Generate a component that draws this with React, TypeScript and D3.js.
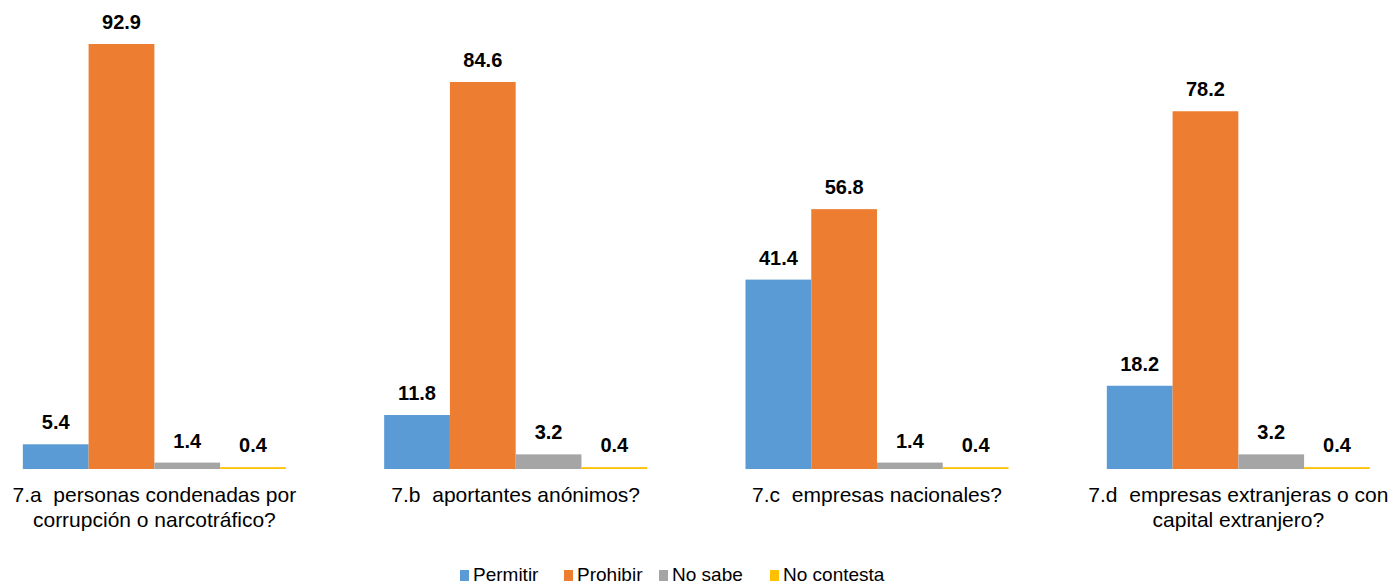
import React, { useRef, useEffect } from "react";
import * as d3 from "d3";

const categories = ["7.a", "7.b", "7.c", "7.d"];
const categoryLines = [
  ["7.a  personas condenadas por", "corrupción o narcotráfico?"],
  ["7.b  aportantes anónimos?"],
  ["7.c  empresas nacionales?"],
  ["7.d  empresas extranjeras o con", "capital extranjero?"],
];
const seriesNames = ["Permitir", "Prohibir", "No sabe", "No contesta"];
const seriesColors = ["#5B9BD5", "#ED7D31", "#A5A5A5", "#FFC000"];
const permitir = [5.4, 11.8, 41.4, 18.2];
const prohibir = [92.9, 84.6, 56.8, 78.2];
const noSabe = [1.4, 3.2, 1.4, 3.2];
const noContesta = [0.4, 0.4, 0.4, 0.4];
const seriesValues = [permitir, prohibir, noSabe, noContesta];

const WIDTH = 1393;
const HEIGHT = 586;

const App: React.FC = () => {
  const svgRef = useRef<SVGSVGElement | null>(null);

  useEffect(() => {
    if (!svgRef.current) return;
    const svg = d3.select(svgRef.current);
    svg.selectAll("*").remove();

    const baseline = 469;
    const font = "Arial, 'Liberation Sans', sans-serif";

    const x0 = d3
      .scaleBand<string>()
      .domain(categories)
      .range([-26.3, 1419])
      .paddingInner(0.272)
      .paddingOuter(0.136);

    const x1 = d3
      .scaleBand<string>()
      .domain(seriesNames)
      .range([0, x0.bandwidth()])
      .padding(0);

    const y = d3.scaleLinear().domain([0, 92.9]).range([baseline, 44]);

    const groups = svg
      .selectAll("g.group")
      .data(categories)
      .enter()
      .append("g")
      .attr("class", "group")
      .attr("transform", (d) => `translate(${x0(d)},0)`);

    groups.each(function (cat, ci) {
      const g = d3.select(this);
      const rows = seriesNames.map((s, si) => ({
        s,
        si,
        v: seriesValues[si][ci],
      }));

      g.selectAll("rect")
        .data(rows)
        .enter()
        .append("rect")
        .attr("x", (d) => x1(d.s)!)
        .attr("y", (d) => y(d.v))
        .attr("width", x1.bandwidth())
        .attr("height", (d) => baseline - y(d.v))
        .attr("fill", (d) => seriesColors[d.si]);

      g.selectAll("text.val")
        .data(rows)
        .enter()
        .append("text")
        .attr("class", "val")
        .attr("x", (d) => x1(d.s)! + x1.bandwidth() / 2)
        .attr("y", (d) => y(d.v) - 15)
        .attr("text-anchor", "middle")
        .attr("font-family", font)
        .attr("font-weight", "bold")
        .attr("font-size", 20)
        .attr("fill", "#000")
        .text((d) => d.v.toFixed(1));

      const lines = categoryLines[ci];
      g.selectAll("text.cat")
        .data(lines)
        .enter()
        .append("text")
        .attr("class", "cat")
        .attr("x", x0.bandwidth() / 2)
        .attr("y", (d, i) => 502 + i * 25)
        .attr("text-anchor", "middle")
        .attr("font-family", font)
        .attr("font-size", 21)
        .attr("fill", "#000")
        .style("white-space", "pre")
        .text((d) => d);
    });

    // legend
    const legendX = [460, 564, 659, 770];
    const legend = svg
      .selectAll("g.legend")
      .data(seriesNames)
      .enter()
      .append("g")
      .attr("class", "legend")
      .attr("transform", (d, i) => `translate(${legendX[i]},0)`);

    legend
      .append("rect")
      .attr("x", 0)
      .attr("y", 570)
      .attr("width", 9)
      .attr("height", 11)
      .attr("fill", (d, i) => seriesColors[i]);

    legend
      .append("text")
      .attr("x", 13)
      .attr("y", 581)
      .attr("font-family", font)
      .attr("font-size", 19)
      .attr("fill", "#000")
      .text((d) => d);
  }, []);

  return (
    <svg
      ref={svgRef}
      width={WIDTH}
      height={HEIGHT}
      style={{ position: "absolute", left: 0, top: 0, background: "#fff" }}
    ></svg>
  );
};

export default App;
